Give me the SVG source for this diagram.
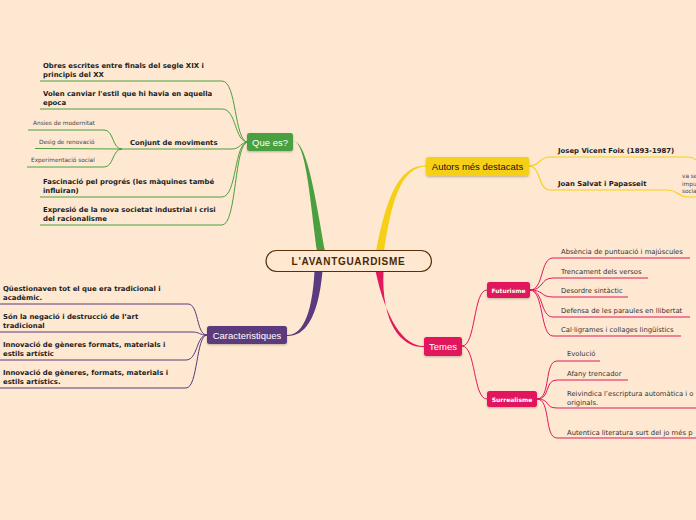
<svg xmlns="http://www.w3.org/2000/svg" width="696" height="520" viewBox="0 0 696 520">
<style>
.bg{fill:#fee8d1}
.b{font-family:"DejaVu Sans",Verdana,sans-serif;font-weight:bold;font-size:6.9px;fill:#1c1c1c}
.r{font-family:"DejaVu Sans",Verdana,sans-serif;font-size:6.8px;fill:#333}
.s{font-family:"DejaVu Sans",Verdana,sans-serif;font-size:5.8px;fill:#444}
.nl{font-family:"Liberation Sans",Arial,sans-serif;font-size:9.5px;fill:#fff;text-anchor:middle}
.ns{font-family:"DejaVu Sans",Verdana,sans-serif;font-weight:bold;font-size:6px;fill:#fff;text-anchor:middle}
.g{fill:none;stroke:#4aa03f;stroke-width:1}
.y{fill:none;stroke:#f5d016;stroke-width:1.2}
.p{fill:none;stroke:#5b3a7d;stroke-width:1}
.c{fill:none;stroke:#e2185c;stroke-width:1}
</style>
<defs>
<filter id="sh" x="-20%" y="-30%" width="140%" height="170%">
<feDropShadow dx="0" dy="1" stdDeviation="0.8" flood-color="#000" flood-opacity="0.25"/>
</filter>
</defs>
<rect class="bg" x="0" y="0" width="696" height="520"/>
<g id="connectors">
<path d="M293,141 C306,141.5 310,200 317,251 L325,251 C316,200 307,140.5 293,141 Z" fill="#4aa03f"/>
<path d="M376,251 C386,200 398,165 426,165.5 L426,166.5 C400,167 391,205 384,251 Z" fill="#f5d016"/>
<path d="M314.5,271 C312,320 300,335.5 287,335 L287,336 C303,336.5 318,322 322.5,271 Z" fill="#5b3a7d"/>
<path d="M375.5,271 C386,320 404,346.5 424,346 L424,347 C402,348 381,324 383.5,271 Z" fill="#e2185c"/>
<path class="g" d="M40,81 L222,81 C237,81 234,142 248,142"/>
<path class="g" d="M40,109 L222,109 C237,109 234,142 248,142"/>
<path class="g" d="M120,149 L232,149 C240,149 241,142 248,142"/>
<path class="g" d="M40,197 L222,197 C237,197 234,142 248,142"/>
<path class="g" d="M40,225 L222,225 C237,225 234,142 248,142"/>
<path class="g" d="M28,130 L104,130 C114,130 112,149 122,149"/>
<path class="g" d="M35,148.5 L122,149"/>
<path class="g" d="M27,167 L104,167 C114,167 112,149 122,149"/>
<path class="p" d="M0,304 L188,304 C199,304 196,335 207,335"/>
<path class="p" d="M0,332 L192,332 C200,332 199,335 207,335"/>
<path class="p" d="M0,360 L186,360 C198,360 196,335 207,335"/>
<path class="p" d="M0,388 L186,388 C198,388 196,335 207,335"/>
<path class="y" d="M529,166 C541,166 538,157 550,157 L688,157 C692,157 694,158 696,160"/>
<path class="y" d="M529,166 C541,166 538,190 550,190 L668,190 C678,190 678,197 688,197 L696,197"/>
<path class="c" d="M462,346 C476,346 473,290 487,290"/>
<path class="c" d="M462,346 C476,346 473,399 487,399"/>
<path class="c" d="M530,290 C544,290 540,258 553,258 L690,258"/>
<path class="c" d="M530,290 C544,290 540,278 553,278 L648,278"/>
<path class="c" d="M530,290 C544,290 540,297 553,297 L628,297"/>
<path class="c" d="M530,290 C544,290 540,317 553,317 L690,317"/>
<path class="c" d="M530,290 C544,290 540,336 553,336 L681,336"/>
<path class="c" d="M537,399 C551,399 544,361 557,361 L600,361"/>
<path class="c" d="M537,399 C551,399 544,380 557,380 L628,380"/>
<path class="c" d="M537,399 C551,399 544,408 557,408 L696,408"/>
<path class="c" d="M537,399 C551,399 544,438 557,438 L696,438"/>
</g>
<g id="central">
<rect x="266" y="250.5" width="165.5" height="21" rx="10.5" fill="#fee8d1" stroke="#5a3006" stroke-width="1.2"/>
<text x="348.5" y="265" font-family="'Liberation Sans',Arial,sans-serif" font-weight="bold" font-size="10px" letter-spacing="0.7" fill="#4a2804" text-anchor="middle">L'AVANTGUARDISME</text>
</g>
<g id="que-es">
<rect x="247" y="133" width="46" height="18" rx="2.5" fill="#4aa03f" filter="url(#sh)"/>
<text class="nl" x="270" y="145.5">Que es?</text>
</g>
<g id="obres">
<text class="b" x="43" y="68">Obres escrites entre finals del segle XIX i</text>
<text class="b" x="43" y="76.5">principis del XX</text>
</g>
<g id="volen">
<text class="b" x="43" y="96">Volen canviar l'estil que hi havia en aquella</text>
<text class="b" x="43" y="104.5">epoca</text>
</g>
<g id="conjunt">
<text class="b" x="130" y="144.5">Conjunt de moviments</text>
</g>
<g id="ansies"><text class="s" x="33" y="125">Ansies de modernitat</text></g>
<g id="desig"><text class="s" x="39" y="144">Desig de renovació</text></g>
<g id="experimentacio"><text class="s" x="31" y="162">Experimentació social</text></g>
<g id="fascinacio">
<text class="b" x="43" y="184">Fascinació pel progrés (les màquines també</text>
<text class="b" x="43" y="193">influiran)</text>
</g>
<g id="expresio">
<text class="b" x="43" y="212">Expresió de la nova societat industrial i crisi</text>
<text class="b" x="43" y="221">del racionalisme</text>
</g>
<g id="caracteristiques">
<rect x="207" y="326" width="80" height="18" rx="2.5" fill="#5b3a7d" filter="url(#sh)"/>
<text class="nl" x="247" y="338.5">Caracteristiques</text>
</g>
<g id="questionaven">
<text class="b" x="3" y="291">Qüestionaven tot el que era tradicional i</text>
<text class="b" x="3" y="300">acadèmic.</text>
</g>
<g id="negacio">
<text class="b" x="3" y="319">Són la negació i destrucció de l’art</text>
<text class="b" x="3" y="328">tradicional</text>
</g>
<g id="innovacio1">
<text class="b" x="3" y="347">Innovació de gèneres formats, materials i</text>
<text class="b" x="3" y="356">estils artístic</text>
</g>
<g id="innovacio2">
<text class="b" x="3" y="375">Innovació de gèneres, formats, materials i</text>
<text class="b" x="3" y="384">estils artístics.</text>
</g>
<g id="autors">
<rect x="426" y="157" width="103" height="19" rx="2.5" fill="#f5d016" filter="url(#sh)"/>
<text x="477.5" y="170" font-family="'Liberation Sans',Arial,sans-serif" font-size="9.5px" fill="#111" text-anchor="middle">Autors més destacats</text>
</g>
<g id="foix"><text class="b" x="558" y="153">Josep Vicent Foix (1893-1987)</text></g>
<g id="salvat"><text class="b" x="558" y="186">Joan Salvat i Papasseit</text></g>
<g id="salvat-note">
<text class="s" x="682" y="178">va se</text>
<text class="s" x="682" y="186">impu</text>
<text class="s" x="682" y="193">socia</text>
</g>
<g id="temes">
<rect x="424" y="337" width="38" height="19" rx="2.5" fill="#e2185c" filter="url(#sh)"/>
<text class="nl" x="443" y="350">Temes</text>
</g>
<g id="futurisme">
<rect x="487" y="282" width="43" height="16" rx="2.5" fill="#e2185c" filter="url(#sh)"/>
<text class="ns" x="508.5" y="292.5">Futurisme</text>
</g>
<g id="absencia"><text class="r" x="561" y="254">Absència de puntuació i majúscules</text></g>
<g id="trencament"><text class="r" x="561" y="273.5">Trencament dels versos</text></g>
<g id="desordre"><text class="r" x="561" y="293">Desordre sintàctic</text></g>
<g id="defensa"><text class="r" x="561" y="312.5">Defensa de les paraules en llibertat</text></g>
<g id="calligrames"><text class="r" x="561" y="332">Cal·ligrames i collages lingüístics</text></g>
<g id="surrealisme">
<rect x="487" y="391" width="50" height="16" rx="2.5" fill="#e2185c" filter="url(#sh)"/>
<text class="ns" x="512" y="401.5">Surrealisme</text>
</g>
<g id="evolucio"><text class="r" x="567" y="356">Evolució</text></g>
<g id="afany"><text class="r" x="567" y="376">Afany trencador</text></g>
<g id="reivindica">
<text class="r" x="567" y="395.5">Reivindica l’escriptura automàtica i o</text>
<text class="r" x="567" y="404.5">originals.</text>
</g>
<g id="autentica"><text class="r" x="567" y="434.5">Autentica literatura surt del jo més p</text></g>
</svg>
